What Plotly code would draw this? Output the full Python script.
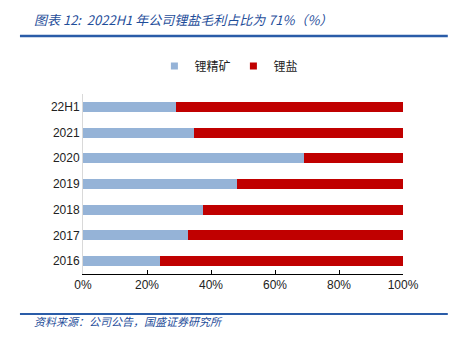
import plotly.graph_objects as go

categories = ["2016", "2017", "2018", "2019", "2020", "2021", "22H1"]
concentrate = [24.0, 32.8, 37.5, 48.1, 69.0, 34.6, 29.0]
salt = [100 - v for v in concentrate]
series_names = ["锂精矿", "锂盐"]
colors = ["#95B3D7", "#C00000"]
x_ticks = [0, 20, 40, 60, 80, 100]
x_ticklabels = ["0%", "20%", "40%", "60%", "80%", "100%"]

title_text = "图表 12:  2022H1 年公司锂盐毛利占比为 71%（%）"
source_text = "资料来源：公司公告，国盛证券研究所"

fig = go.Figure()
for name, vals, c in zip(series_names, [concentrate, salt], colors):
    fig.add_trace(go.Bar(y=categories, x=vals, orientation="h", name=name,
                         marker=dict(color=c, line=dict(width=0)), showlegend=False))
    fig.add_trace(go.Scatter(x=[None], y=[None], mode="markers", name=name,
                             marker=dict(symbol="square", size=7, color=c)))

cjk = "Noto Sans CJK SC"
fig.update_layout(
    width=450, height=339,
    margin=dict(l=83, r=47, t=94, b=65),
    barmode="stack", bargap=0.61,
    paper_bgcolor="white", plot_bgcolor="white",
    font=dict(family="Liberation Sans, " + cjk, size=12, color="#222222"),
    legend=dict(orientation="h", x=0.47, xanchor="center", y=1.156, yanchor="middle",
                font=dict(family=cjk, size=12, color="#222222"),
                itemwidth=30, tracegroupgap=0, traceorder="normal",
                entrywidth=34, entrywidthmode="pixels"),
    xaxis=dict(range=[0, 100], tickvals=x_ticks, ticktext=x_ticklabels,
               showgrid=False, zeroline=False, showline=True, linecolor="#000000",
               linewidth=1, ticks="inside", ticklen=4, tickcolor="#000000",
               tickfont=dict(size=12, color="#222222")),
    yaxis=dict(showgrid=False, zeroline=False, showline=True, linecolor="#D9D9D9",
               linewidth=1, ticks="", tickfont=dict(size=12, color="#222222"),
               categoryorder="array", categoryarray=categories),
    annotations=[
        dict(text=title_text, xref="paper", yref="paper", x=-0.16, y=1.0,
             xanchor="left", yanchor="middle", showarrow=False,
             yshift=75,
             font=dict(family=cjk, size=13, color="#1F4E9A", style="italic")),
        dict(text=source_text, xref="paper", yref="paper", x=-0.16, y=0,
             xanchor="left", yanchor="middle", showarrow=False,
             yshift=-47,
             font=dict(family=cjk, size=11, color="#1F4E9A", style="italic")),
    ],
    shapes=[
        dict(type="line", xref="paper", yref="paper", x0=-0.197, x1=1.14, y0=1, y1=1,
             line=dict(color="#2A5CA8", width=2.5)),
        dict(type="line", xref="paper", yref="paper", x0=-0.197, x1=1.14, y0=0, y1=0,
             line=dict(color="#2A5CA8", width=2)),
    ],
)
fig.layout.shapes[0].update(ysizemode="pixel", yanchor=1, y0=58, y1=58)
fig.layout.shapes[1].update(ysizemode="pixel", yanchor=0, y0=-40, y1=-40)

fig.write_html("out.html")
